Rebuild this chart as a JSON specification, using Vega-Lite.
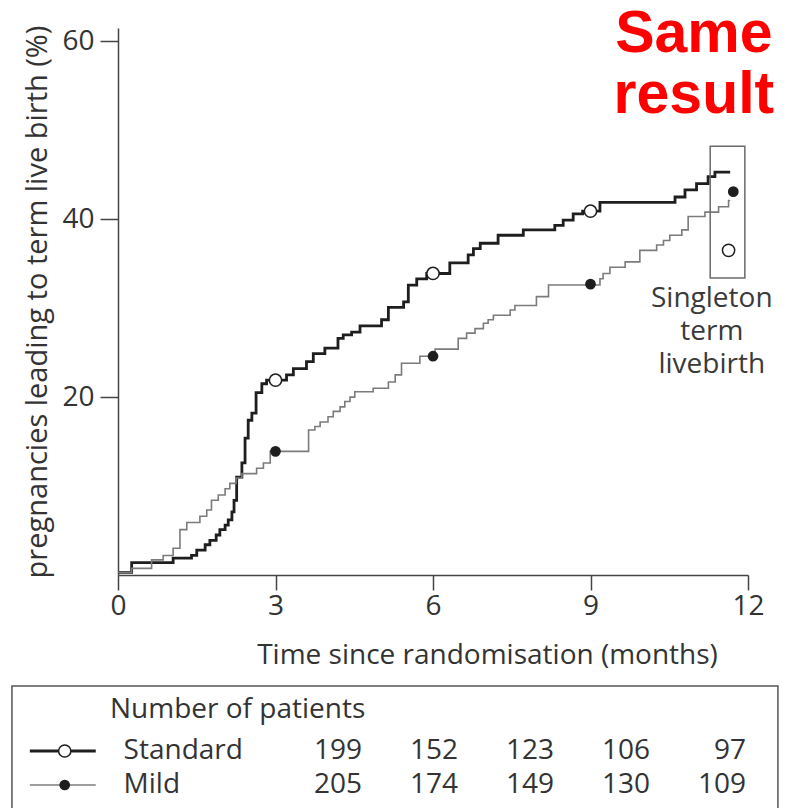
{
  "$schema": "https://vega.github.io/schema/vega-lite/v6.json",
  "width": 630,
  "height": 547,
  "autosize": "none",
  "padding": {"left": 118, "top": 28, "right": 44, "bottom": 233},
  "background": "white",
  "config": {"view": {"stroke": null}, "font": "Open Sans"},
  "datasets": {
    "curves": [
      {"group": "Standard", "t": 0, "v": 0.3}, {"group": "Standard", "t": 0.26, "v": 1.4}, {"group": "Standard", "t": 1.05, "v": 1.9}, {"group": "Standard", "t": 1.4, "v": 2.2}, {"group": "Standard", "t": 1.5, "v": 2.8}, {"group": "Standard", "t": 1.66, "v": 3.4}, {"group": "Standard", "t": 1.75, "v": 3.9}, {"group": "Standard", "t": 1.87, "v": 4.5}, {"group": "Standard", "t": 1.94, "v": 5.1}, {"group": "Standard", "t": 2.04, "v": 5.6}, {"group": "Standard", "t": 2.1, "v": 6.2}, {"group": "Standard", "t": 2.17, "v": 7.1}, {"group": "Standard", "t": 2.21, "v": 8.4}, {"group": "Standard", "t": 2.26, "v": 11.0}, {"group": "Standard", "t": 2.36, "v": 12.6}, {"group": "Standard", "t": 2.42, "v": 15.4}, {"group": "Standard", "t": 2.48, "v": 17.4}, {"group": "Standard", "t": 2.55, "v": 18.2}, {"group": "Standard", "t": 2.63, "v": 20.5}, {"group": "Standard", "t": 2.74, "v": 21.5}, {"group": "Standard", "t": 2.83, "v": 21.9}, {"group": "Standard", "t": 3.21, "v": 22.5}, {"group": "Standard", "t": 3.34, "v": 23.2}, {"group": "Standard", "t": 3.59, "v": 24.0}, {"group": "Standard", "t": 3.72, "v": 24.9}, {"group": "Standard", "t": 3.94, "v": 25.5}, {"group": "Standard", "t": 4.19, "v": 26.6}, {"group": "Standard", "t": 4.29, "v": 27.0}, {"group": "Standard", "t": 4.45, "v": 27.3}, {"group": "Standard", "t": 4.61, "v": 28.0}, {"group": "Standard", "t": 5.02, "v": 28.7}, {"group": "Standard", "t": 5.15, "v": 30.1}, {"group": "Standard", "t": 5.44, "v": 30.7}, {"group": "Standard", "t": 5.53, "v": 32.6}, {"group": "Standard", "t": 5.69, "v": 33.3}, {"group": "Standard", "t": 5.88, "v": 33.9}, {"group": "Standard", "t": 6.32, "v": 35.1}, {"group": "Standard", "t": 6.67, "v": 36.0}, {"group": "Standard", "t": 6.77, "v": 36.7}, {"group": "Standard", "t": 6.9, "v": 37.3}, {"group": "Standard", "t": 7.24, "v": 38.2}, {"group": "Standard", "t": 7.72, "v": 38.8}, {"group": "Standard", "t": 8.32, "v": 39.3}, {"group": "Standard", "t": 8.48, "v": 39.9}, {"group": "Standard", "t": 8.67, "v": 40.6}, {"group": "Standard", "t": 8.85, "v": 40.9}, {"group": "Standard", "t": 9.18, "v": 41.9}, {"group": "Standard", "t": 10.61, "v": 42.5}, {"group": "Standard", "t": 10.8, "v": 43.3}, {"group": "Standard", "t": 11.02, "v": 44.0}, {"group": "Standard", "t": 11.24, "v": 44.8}, {"group": "Standard", "t": 11.37, "v": 45.3}, {"group": "Standard", "t": 11.66, "v": 45.3},
      {"group": "Mild", "t": 0, "v": 0.3}, {"group": "Mild", "t": 0.26, "v": 0.75}, {"group": "Mild", "t": 0.64, "v": 1.7}, {"group": "Mild", "t": 0.86, "v": 2.2}, {"group": "Mild", "t": 1.05, "v": 3.0}, {"group": "Mild", "t": 1.18, "v": 5.1}, {"group": "Mild", "t": 1.31, "v": 5.9}, {"group": "Mild", "t": 1.56, "v": 6.6}, {"group": "Mild", "t": 1.69, "v": 7.3}, {"group": "Mild", "t": 1.78, "v": 8.4}, {"group": "Mild", "t": 1.91, "v": 9.0}, {"group": "Mild", "t": 2.04, "v": 9.7}, {"group": "Mild", "t": 2.13, "v": 10.3}, {"group": "Mild", "t": 2.25, "v": 10.9}, {"group": "Mild", "t": 2.36, "v": 11.4}, {"group": "Mild", "t": 2.64, "v": 12.0}, {"group": "Mild", "t": 2.77, "v": 12.6}, {"group": "Mild", "t": 2.9, "v": 13.9}, {"group": "Mild", "t": 3.63, "v": 16.3}, {"group": "Mild", "t": 3.75, "v": 16.7}, {"group": "Mild", "t": 3.85, "v": 17.2}, {"group": "Mild", "t": 4.0, "v": 17.8}, {"group": "Mild", "t": 4.1, "v": 18.4}, {"group": "Mild", "t": 4.23, "v": 18.9}, {"group": "Mild", "t": 4.32, "v": 19.5}, {"group": "Mild", "t": 4.42, "v": 20.0}, {"group": "Mild", "t": 4.51, "v": 20.6}, {"group": "Mild", "t": 4.86, "v": 21.0}, {"group": "Mild", "t": 5.15, "v": 21.7}, {"group": "Mild", "t": 5.28, "v": 22.5}, {"group": "Mild", "t": 5.4, "v": 23.8}, {"group": "Mild", "t": 5.75, "v": 24.6}, {"group": "Mild", "t": 6.04, "v": 25.4}, {"group": "Mild", "t": 6.48, "v": 26.6}, {"group": "Mild", "t": 6.64, "v": 27.2}, {"group": "Mild", "t": 6.8, "v": 27.7}, {"group": "Mild", "t": 6.96, "v": 28.3}, {"group": "Mild", "t": 7.05, "v": 28.7}, {"group": "Mild", "t": 7.15, "v": 29.2}, {"group": "Mild", "t": 7.47, "v": 29.8}, {"group": "Mild", "t": 7.56, "v": 30.3}, {"group": "Mild", "t": 7.97, "v": 31.3}, {"group": "Mild", "t": 8.2, "v": 32.6}, {"group": "Mild", "t": 9.18, "v": 33.3}, {"group": "Mild", "t": 9.24, "v": 33.9}, {"group": "Mild", "t": 9.37, "v": 34.6}, {"group": "Mild", "t": 9.66, "v": 35.2}, {"group": "Mild", "t": 9.94, "v": 36.5}, {"group": "Mild", "t": 10.26, "v": 37.1}, {"group": "Mild", "t": 10.39, "v": 37.6}, {"group": "Mild", "t": 10.51, "v": 38.2}, {"group": "Mild", "t": 10.74, "v": 38.8}, {"group": "Mild", "t": 10.86, "v": 40.3}, {"group": "Mild", "t": 11.18, "v": 40.8}, {"group": "Mild", "t": 11.44, "v": 41.4}, {"group": "Mild", "t": 11.63, "v": 42.1}, {"group": "Mild", "t": 11.66, "v": 42.1}
    ],
    "markers": [
      {"group": "Standard", "t": 3, "v": 21.9}, {"group": "Standard", "t": 6, "v": 33.9}, {"group": "Standard", "t": 9, "v": 40.9}, {"group": "Standard", "t": 11.63, "v": 36.5},
      {"group": "Mild", "t": 3, "v": 13.9}, {"group": "Mild", "t": 6, "v": 24.6}, {"group": "Mild", "t": 9, "v": 32.7}, {"group": "Mild", "t": 11.72, "v": 43.1}
    ],
    "atrisk": [
      {"group": "Standard", "month": 0, "n": 199}, {"group": "Standard", "month": 3, "n": 152}, {"group": "Standard", "month": 6, "n": 123}, {"group": "Standard", "month": 9, "n": 106}, {"group": "Standard", "month": 12, "n": 97},
      {"group": "Mild", "month": 0, "n": 205}, {"group": "Mild", "month": 3, "n": 174}, {"group": "Mild", "month": 6, "n": 149}, {"group": "Mild", "month": 9, "n": 130}, {"group": "Mild", "month": 12, "n": 109}
    ],
    "groups": [{"group": "Standard"}, {"group": "Mild"}]
  },
  "layer": [
    {
      "layer": [
        {
          "data": {"name": "curves"},
          "mark": {"type": "line", "interpolate": "step-after"},
          "encoding": {
            "x": {"field": "t", "type": "quantitative", "scale": {"domain": [0, 12], "nice": false},
              "axis": {"values": [0, 3, 6, 9, 12], "title": "Time since randomisation  (months)", "grid": false, "tickSize": 15, "tickWidth": 1.5, "tickColor": "#444", "domainColor": "#444", "domainWidth": 1.5, "labelFontSize": 28, "labelColor": "#333", "labelPadding": 2, "labelFlush": false, "titleFontSize": 28, "titleFontWeight": "normal", "titleColor": "#333", "titleX": 369, "titleY": 66}},
            "y": {"field": "v", "type": "quantitative", "scale": {"domain": [0, 61.5], "nice": false},
              "axis": {"values": [20, 40, 60], "title": "pregnancies leading to term live birth (%)", "grid": false, "tickSize": 18, "tickWidth": 1.5, "tickColor": "#444", "domainColor": "#444", "domainWidth": 1.5, "labelFontSize": 28, "labelColor": "#333", "labelPadding": 6, "titleFontSize": 29, "titleFontWeight": "normal", "titleColor": "#333", "titlePadding": 9}},
            "color": {"field": "group", "type": "nominal", "scale": {"domain": ["Standard", "Mild"], "range": ["#1e1e1e", "#7b7b7b"]}, "legend": null},
            "strokeWidth": {"field": "group", "type": "nominal", "scale": {"domain": ["Standard", "Mild"], "range": [2.8, 1.6]}, "legend": null}
          }
        },
        {
          "data": {"name": "markers"},
          "mark": {"type": "point", "shape": "circle", "filled": true, "stroke": "#1e1e1e", "strokeWidth": 1.5, "opacity": 1},
          "encoding": {
            "x": {"field": "t", "type": "quantitative"},
            "y": {"field": "v", "type": "quantitative"},
            "fill": {"field": "group", "type": "nominal", "scale": {"domain": ["Standard", "Mild"], "range": ["#ffffff", "#1e1e1e"]}, "legend": null},
            "size": {"field": "group", "type": "nominal", "scale": {"domain": ["Standard", "Mild"], "range": [150, 85]}, "legend": null}
          }
        },
        {
          "data": {"values": [{}]},
          "mark": {"type": "rect", "fill": null, "stroke": "#6a6a6a", "strokeWidth": 1.5},
          "encoding": {"x": {"datum": 11.28}, "x2": {"datum": 11.94}, "y": {"datum": 48.2}, "y2": {"datum": 33.4}}
        },
        {
          "data": {"values": [{"label": "Singleton\nterm\nlivebirth"}]},
          "mark": {"type": "text", "align": "center", "baseline": "top", "lineBreak": "\n", "lineHeight": 33, "fontSize": 28, "color": "#3a3a3a"},
          "encoding": {"x": {"datum": 11.31}, "y": {"datum": 32.6}, "text": {"field": "label"}}
        },
        {
          "data": {"values": [{"label": "Same\nresult"}]},
          "mark": {"type": "text", "align": "center", "baseline": "alphabetic", "lineBreak": "\n", "lineHeight": 61, "fontSize": 59, "fontWeight": "bold", "font": "Liberation Sans", "color": "#ff0000"},
          "encoding": {"x": {"datum": 10.97}, "y": {"datum": 58.8}, "text": {"field": "label"}}
        },
        {
          "data": {"values": [{}]},
          "mark": {"type": "rect", "fill": null, "stroke": "#555", "strokeWidth": 1.5},
          "encoding": {"x": {"datum": -2.02}, "x2": {"datum": 12.57}, "y": {"datum": -12.48}, "y2": {"datum": -28}}
        },
        {
          "data": {"values": [{"label": "Number of patients"}]},
          "mark": {"type": "text", "align": "left", "baseline": "middle", "fontSize": 28, "color": "#333"},
          "encoding": {"x": {"datum": -0.152}, "y": {"datum": -15.2}, "text": {"field": "label"}}
        }
      ]
    },
    {
      "layer": [
        {
          "data": {"name": "atrisk"},
          "mark": {"type": "text", "align": "right", "baseline": "middle", "fontSize": 28, "color": "#333"},
          "encoding": {
            "x": {"field": "month", "type": "quantitative", "scale": {"domain": [0, 12], "range": [244, 628], "nice": false, "zero": false}, "axis": null},
            "y": {"field": "group", "type": "nominal", "scale": {"type": "point", "domain": ["Standard", "Mild"], "range": [723, 757], "padding": 0}, "axis": null},
            "text": {"field": "n", "type": "quantitative"}
          }
        },
        {
          "data": {"name": "groups"},
          "mark": {"type": "text", "align": "left", "baseline": "middle", "fontSize": 28, "color": "#333"},
          "encoding": {"x": {"datum": -7.45}, "y": {"field": "group", "type": "nominal"}, "text": {"field": "group"}}
        },
        {
          "data": {"name": "groups"},
          "mark": {"type": "rule"},
          "encoding": {
            "x": {"datum": -10.38}, "x2": {"datum": -8.32},
            "y": {"field": "group", "type": "nominal"},
            "color": {"field": "group", "type": "nominal", "scale": {"domain": ["Standard", "Mild"], "range": ["#1e1e1e", "#7b7b7b"]}, "legend": null},
            "strokeWidth": {"field": "group", "type": "nominal", "scale": {"domain": ["Standard", "Mild"], "range": [2.6, 1.6]}, "legend": null}
          }
        },
        {
          "data": {"name": "groups"},
          "mark": {"type": "point", "shape": "circle", "filled": true, "stroke": "#1e1e1e", "strokeWidth": 1.5, "opacity": 1},
          "encoding": {
            "x": {"datum": -9.29},
            "y": {"field": "group", "type": "nominal"},
            "fill": {"field": "group", "type": "nominal", "scale": {"domain": ["Standard", "Mild"], "range": ["#ffffff", "#1e1e1e"]}, "legend": null},
            "size": {"field": "group", "type": "nominal", "scale": {"domain": ["Standard", "Mild"], "range": [120, 70]}, "legend": null}
          }
        }
      ]
    }
  ],
  "resolve": {"scale": {"x": "independent", "y": "independent"}, "axis": {"x": "independent", "y": "independent"}}
}
